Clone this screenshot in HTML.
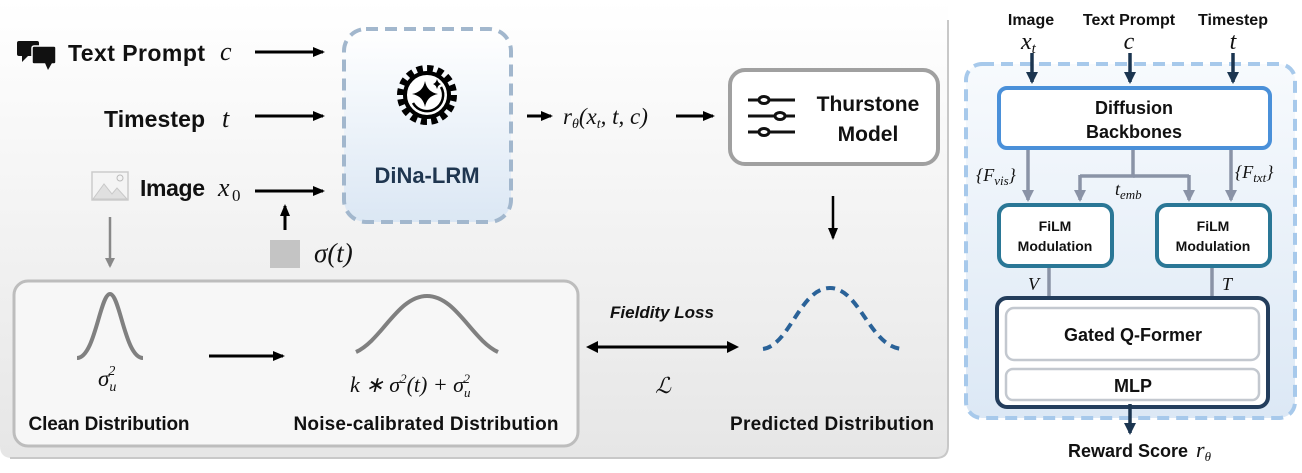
<!DOCTYPE html>
<html><head><meta charset="utf-8"><style>
html,body{margin:0;padding:0;background:#fff;}
svg{display:block;}
.b{font-family:"Liberation Sans",sans-serif;font-weight:bold;fill:#111;}
.m{font-family:"Liberation Serif",serif;font-style:italic;fill:#111;}
</style></head><body>
<svg width="1302" height="473" viewBox="0 0 1302 473" xmlns="http://www.w3.org/2000/svg">
<defs>
<linearGradient id="pg" x1="0" y1="0" x2="0" y2="1"><stop offset="0" stop-color="#ffffff"/><stop offset="1" stop-color="#e6e6e6"/></linearGradient>
<linearGradient id="dg" x1="0" y1="0" x2="0" y2="1"><stop offset="0" stop-color="#ffffff"/><stop offset="1" stop-color="#dbe7f4"/></linearGradient>
<linearGradient id="rg" x1="0" y1="0" x2="0" y2="1"><stop offset="0" stop-color="#f7fafd"/><stop offset="1" stop-color="#dce8f5"/></linearGradient>
<marker id="ak" markerWidth="12" markerHeight="12" refX="10" refY="6" orient="auto" markerUnits="userSpaceOnUse"><path d="M0,1 L12,6 L0,11z" fill="#000"/></marker>
<marker id="ag" markerWidth="10" markerHeight="10" refX="8" refY="5" orient="auto" markerUnits="userSpaceOnUse"><path d="M0,0 L10,5 L0,10z" fill="#888"/></marker>
<marker id="an" markerWidth="12" markerHeight="12" refX="10" refY="6" orient="auto" markerUnits="userSpaceOnUse"><path d="M0,0 L12,6 L0,12z" fill="#1b3550"/></marker>
<marker id="as" markerWidth="12" markerHeight="12" refX="10" refY="6" orient="auto" markerUnits="userSpaceOnUse"><path d="M0,0 L12,6 L0,12z" fill="#8a93a6"/></marker>
<marker id="ab" markerWidth="12" markerHeight="12" refX="2" refY="6" orient="auto-start-reverse" markerUnits="userSpaceOnUse"><path d="M0,0 L12,6 L0,12z" fill="#000"/></marker>
</defs>
<!-- left panel -->
<path d="M0,0 H948 V446 Q948,458 936,458 H12 Q0,458 0,446 Z" fill="url(#pg)"/>
<path d="M948,20 V446 Q948,458 936,458 H10" fill="none" stroke="#c8c8c8" stroke-width="2"/>
<!-- chat icon -->
<rect x="17" y="41" width="22" height="15" rx="2" fill="#111"/><path d="M22,55 L22,62 L29,55z" fill="#111"/>
<rect x="32" y="46" width="24" height="18" rx="2" fill="#111" stroke="#fff" stroke-width="1.5"/><path d="M45,63 L48,70 L52,63z" fill="#111"/>
<text x="68" y="61" class="b" font-size="23" textLength="137">Text Prompt</text>
<text x="220" y="60" class="m" font-size="26">c</text>
<text x="104" y="127" class="b" font-size="23" textLength="101">Timestep</text>
<text x="222" y="127" class="m" font-size="26">t</text>
<!-- image icon -->
<rect x="92" y="172" width="36" height="28" fill="#f4f4f4" stroke="#ccc" stroke-width="1.5"/>
<path d="M93,199 L104,184 L112,194 L117,188 L127,199z" fill="#e0e0e0" stroke="#c8c8c8"/><circle cx="120" cy="178" r="3" fill="none" stroke="#bbb"/>
<text x="140" y="196" class="b" font-size="23" textLength="65">Image</text>
<text x="218" y="196" class="m" font-size="26">x</text><text x="232" y="201" font-family="Liberation Serif" font-size="17" fill="#111">0</text>
<line x1="255" y1="52" x2="323" y2="52" stroke="#000" stroke-width="3" marker-end="url(#ak)"/>
<line x1="255" y1="116" x2="323" y2="116" stroke="#000" stroke-width="3" marker-end="url(#ak)"/>
<line x1="255" y1="191" x2="323" y2="191" stroke="#000" stroke-width="3" marker-end="url(#ak)"/>
<line x1="285" y1="230" x2="285" y2="206" stroke="#000" stroke-width="3" marker-end="url(#ak)"/>
<rect x="270" y="240" width="30" height="28" fill="#c4c4c4"/>
<text x="314" y="262" class="m" font-size="27">σ(t)</text>
<line x1="110" y1="217" x2="110" y2="266" stroke="#888" stroke-width="2.5" marker-end="url(#ag)"/>
<!-- DiNa box -->
<rect x="344" y="29" width="167" height="193" rx="22" fill="url(#dg)" stroke="#a2b7cd" stroke-width="4" stroke-dasharray="12,7"/>
<g transform="translate(427,95)">
<circle r="26" fill="none" stroke="#000" stroke-width="8" stroke-dasharray="6,4.2"/>
<circle r="22" fill="#fff" stroke="#000" stroke-width="4"/>
<path d="M-14,8 A16,16 0 0 0 14,-8" fill="none" stroke="#000" stroke-width="2.5"/>
<path d="M-2,-14 Q0,-3 11,-1 Q0,1 -2,12 Q-4,1 -15,-1 Q-4,-3 -2,-14z" fill="#000"/>
<path d="M10,-16 Q11,-12 14,-11 Q11,-10 10,-6 Q9,-10 6,-11 Q9,-12 10,-16z" fill="#000"/>
</g>
<text x="427" y="183" font-family="Liberation Sans,sans-serif" font-weight="bold" font-size="22" fill="#1f3650" text-anchor="middle">DiNa-LRM</text>
<line x1="527" y1="116" x2="551" y2="116" stroke="#000" stroke-width="3" marker-end="url(#ak)"/>
<text x="563" y="124" class="m" font-size="23">r<tspan font-size="14" dy="4">θ</tspan><tspan dy="-4">(x</tspan><tspan font-size="14" dy="4">t</tspan><tspan dy="-4">, t, c)</tspan></text>
<line x1="676" y1="116" x2="713" y2="116" stroke="#000" stroke-width="3" marker-end="url(#ak)"/>
<!-- Thurstone -->
<rect x="730" y="70" width="208" height="94" rx="15" fill="#fff" stroke="#a0a0a0" stroke-width="4"/>
<g stroke="#111" stroke-width="3" fill="#fff">
<line x1="748" y1="100" x2="795" y2="100"/><line x1="748" y1="116" x2="795" y2="116"/><line x1="748" y1="132" x2="795" y2="132"/>
<ellipse cx="764" cy="100" rx="5" ry="3.5"/><ellipse cx="780" cy="116" rx="5" ry="3.5"/><ellipse cx="764" cy="132" rx="5" ry="3.5"/>
</g>
<text x="868" y="111" class="b" font-size="21" text-anchor="middle">Thurstone</text>
<text x="868" y="141" class="b" font-size="21" text-anchor="middle">Model</text>
<line x1="833" y1="196" x2="833" y2="238" stroke="#000" stroke-width="2.5" marker-end="url(#ak)"/>
<!-- bottom box -->
<rect x="14" y="281" width="564" height="165" rx="14" fill="#f7f7f7" stroke="#bdbdbd" stroke-width="3"/>
<path d="M77,358 C95,358 100,294 110,294 C120,294 125,358 143,358" fill="none" stroke="#808080" stroke-width="4"/>
<text x="98" y="386" class="m" font-size="23">σ<tspan font-size="14" dy="5">u</tspan><tspan font-size="14" dx="-8" dy="-16">2</tspan></text>
<text x="109" y="430" class="b" font-size="19" text-anchor="middle" textLength="161">Clean Distribution</text>
<line x1="209" y1="356" x2="283" y2="356" stroke="#000" stroke-width="3" marker-end="url(#ak)"/>
<path d="M356,352 C382,340 398,296 427,296 C456,296 472,340 498,352" fill="none" stroke="#808080" stroke-width="4"/>
<text x="350" y="392" class="m" font-size="22">k ∗ σ<tspan font-size="13" dy="-9">2</tspan><tspan dy="9">(t) + σ</tspan><tspan font-size="13" dy="5">u</tspan><tspan font-size="13" dx="-7" dy="-14">2</tspan></text>
<text x="426" y="430" class="b" font-size="19" text-anchor="middle" textLength="265">Noise-calibrated Distribution</text>
<!-- loss -->
<text x="662" y="318" class="b" font-size="17" font-style="italic" text-anchor="middle">Fieldity Loss</text>
<line x1="596" y1="347" x2="729" y2="347" stroke="#000" stroke-width="3" marker-start="url(#ab)" marker-end="url(#ab)"/>
<text x="663" y="393" font-family="DejaVu Serif,serif" font-style="italic" font-size="22" text-anchor="middle" fill="#111">ℒ</text>
<path d="M763,349 C790,345 800,288 830,288 C860,288 870,348 903,349" fill="none" stroke="#2a6298" stroke-width="4" stroke-dasharray="9,6"/>
<text x="832" y="430" class="b" font-size="19" text-anchor="middle" textLength="204">Predicted Distribution</text>

<!-- right panel -->
<text x="1031" y="25" class="b" font-size="16" text-anchor="middle">Image</text>
<text x="1129" y="25" class="b" font-size="16" text-anchor="middle">Text Prompt</text>
<text x="1233" y="25" class="b" font-size="16" text-anchor="middle">Timestep</text>
<text x="1021" y="49" class="m" font-size="24">x<tspan font-size="15" dy="4">t</tspan></text>
<text x="1129" y="49" class="m" font-size="24" text-anchor="middle">c</text>
<text x="1233" y="49" class="m" font-size="24" text-anchor="middle">t</text>
<rect x="966" y="64" width="329" height="354" rx="16" fill="url(#rg)" stroke="#a7c9eb" stroke-width="4" stroke-dasharray="12,7"/>
<line x1="1032" y1="53" x2="1032" y2="82" stroke="#1b3550" stroke-width="3.5" marker-end="url(#an)"/>
<line x1="1130" y1="53" x2="1130" y2="82" stroke="#1b3550" stroke-width="3.5" marker-end="url(#an)"/>
<line x1="1233" y1="53" x2="1233" y2="82" stroke="#1b3550" stroke-width="3.5" marker-end="url(#an)"/>
<rect x="999" y="88" width="271" height="60" rx="8" fill="#fff" stroke="#4a90d9" stroke-width="4"/>
<text x="1134" y="114" class="b" font-size="18" text-anchor="middle">Diffusion</text>
<text x="1134" y="138" class="b" font-size="18" text-anchor="middle">Backbones</text>
<g stroke="#8a93a6" stroke-width="3.5" fill="none">
<line x1="1028" y1="150" x2="1028" y2="200" marker-end="url(#as)"/>
<line x1="1231" y1="150" x2="1231" y2="200" marker-end="url(#as)"/>
<polyline points="1133,150 1133,176 1080,176"/><polyline points="1133,176 1189,176"/>
<line x1="1080" y1="175" x2="1080" y2="200" marker-end="url(#as)"/>
<line x1="1189" y1="175" x2="1189" y2="200" marker-end="url(#as)"/>
<line x1="1049" y1="268" x2="1049" y2="312" marker-end="url(#as)"/>
<line x1="1212" y1="268" x2="1212" y2="312" marker-end="url(#as)"/>
</g>
<text x="976" y="181" class="m" font-size="18">{F<tspan font-size="13" dy="4">vis</tspan><tspan dy="-4">}</tspan></text>
<text x="1235" y="178" class="m" font-size="18">{F<tspan font-size="13" dy="4">txt</tspan><tspan dy="-4">}</tspan></text>
<text x="1115" y="195" class="m" font-size="18">t<tspan font-size="13" dy="4">emb</tspan></text>
<rect x="999" y="205" width="113" height="61" rx="10" fill="#fff" stroke="#2a7796" stroke-width="4"/>
<rect x="1157" y="205" width="113" height="61" rx="10" fill="#fff" stroke="#2a7796" stroke-width="4"/>
<text x="1055" y="231" class="b" font-size="14" text-anchor="middle">FiLM</text>
<text x="1055" y="251" class="b" font-size="14" text-anchor="middle">Modulation</text>
<text x="1213" y="231" class="b" font-size="14" text-anchor="middle">FiLM</text>
<text x="1213" y="251" class="b" font-size="14" text-anchor="middle">Modulation</text>
<text x="1028" y="290" class="m" font-size="18">V</text>
<text x="1222" y="290" class="m" font-size="18">T</text>
<rect x="997" y="298" width="271" height="109" rx="10" fill="#fff" stroke="#233d5c" stroke-width="4"/>
<rect x="1006" y="308" width="253" height="52" rx="8" fill="#fff" stroke="#c3c8cf" stroke-width="2.5"/>
<rect x="1006" y="369" width="253" height="31" rx="7" fill="#fff" stroke="#c3c8cf" stroke-width="2.5"/>
<text x="1133" y="341" class="b" font-size="18" text-anchor="middle">Gated Q-Former</text>
<text x="1133" y="392" class="b" font-size="18" text-anchor="middle">MLP</text>
<line x1="1130" y1="404" x2="1130" y2="433" stroke="#1b3550" stroke-width="3.5" marker-end="url(#an)"/>
<text x="1068" y="457" class="b" font-size="18">Reward Score</text>
<text x="1196" y="457" class="m" font-size="22">r<tspan font-size="13" dy="4">θ</tspan></text>
</svg>
</body></html>
